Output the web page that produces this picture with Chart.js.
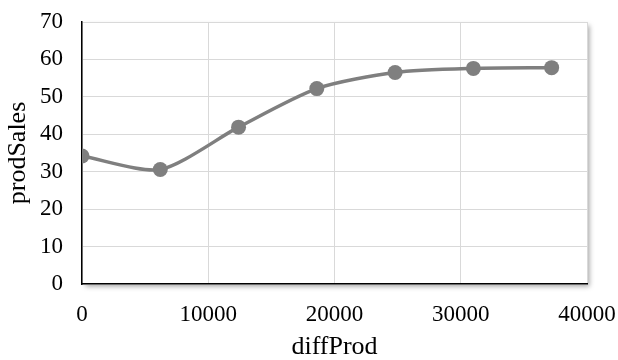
<!DOCTYPE html>
<html>
<head>
<meta charset="utf-8">
<script src="https://cdn.jsdelivr.net/npm/chart.js@4.4.1/dist/chart.umd.min.js"></script>
<style>
html,body{margin:0;padding:0;background:#fff;}
#wrap{width:618px;height:360px;}
</style>
</head>
<body>
<div id="wrap"><canvas id="c" width="618" height="360"></canvas></div>
<script>
const xValues = [0, 6200, 12400, 18600, 24800, 31000, 37200];
const yValues = [34.2, 30.6, 41.9, 52.2, 56.5, 57.6, 57.8];
const xTickValues = [0, 10000, 20000, 30000, 40000];
const yTickValues = [0, 10, 20, 30, 40, 50, 60, 70];
const xTitle = 'diffProd';
const yTitle = 'prodSales';

const points = xValues.map((x, i) => ({x: x, y: yValues[i]}));
const FONT = "'Liberation Serif', 'Times New Roman', serif";

const shadowPlugin = {
  id: 'areaShadow',
  beforeDraw(chart) {
    const {ctx, chartArea: a} = chart;
    ctx.save();
    ctx.shadowColor = 'rgba(0,0,0,0.35)';
    ctx.shadowBlur = 5;
    ctx.shadowOffsetX = 2.5;
    ctx.shadowOffsetY = 2.5;
    ctx.fillStyle = '#ffffff';
    ctx.fillRect(a.left, a.top, a.right - a.left, a.bottom - a.top);
    ctx.restore();
  }
};

new Chart(document.getElementById('c'), {
  type: 'scatter',
  data: {
    datasets: [{
      data: points,
      showLine: true,
      borderColor: '#7f7f7f',
      backgroundColor: '#7f7f7f',
      borderWidth: 3.5,
      tension: 0.25,
      pointRadius: 7.5,
      pointHoverRadius: 7.5,
      pointBorderWidth: 0
    }]
  },
  options: {
    responsive: false,
    animation: false,
    devicePixelRatio: 1,
    layout: {padding: {top: 22, right: 31, left: 0, bottom: 0}},
    plugins: {legend: {display: false}, tooltip: {enabled: false}},
    scales: {
      x: {
        type: 'linear',
        min: 0, max: 40000,
        afterBuildTicks(s) { s.ticks = xTickValues.map(v => ({value: v})); },
        afterFit(s) { s.height = 76; s.paddingLeft = 0; s.paddingRight = 0; s.paddingTop = 0; s.paddingBottom = 0; },
        grid: {color: '#d9d9d9', lineWidth: 1, drawTicks: false},
        border: {color: '#000000', width: 1.5},
        ticks: {color: '#000', font: {family: FONT, size: 23}, padding: 17, maxRotation: 0, autoSkip: false,
                callback: v => String(v)},
        title: {display: true, text: xTitle, color: '#000', font: {family: FONT, size: 26, lineHeight: 1}, padding: {top: 0, bottom: 0}}
      },
      y: {
        type: 'linear',
        min: 0, max: 70,
        afterBuildTicks(s) { s.ticks = yTickValues.map(v => ({value: v})); },
        afterFit(s) { s.width = 82; s.paddingLeft = 0; s.paddingRight = 0; s.paddingTop = 0; s.paddingBottom = 0; },
        grid: {color: '#d9d9d9', lineWidth: 1, drawTicks: false},
        border: {color: '#000000', width: 1.5},
        ticks: {color: '#000', font: {family: FONT, size: 23}, padding: 19, autoSkip: false,
                callback: v => String(v)},
        title: {display: true, text: yTitle, color: '#000', font: {family: FONT, size: 26, lineHeight: 1.2}, padding: {top: 3, bottom: 0}}
      }
    }
  },
  plugins: [shadowPlugin]
});
</script>
</body>
</html>
